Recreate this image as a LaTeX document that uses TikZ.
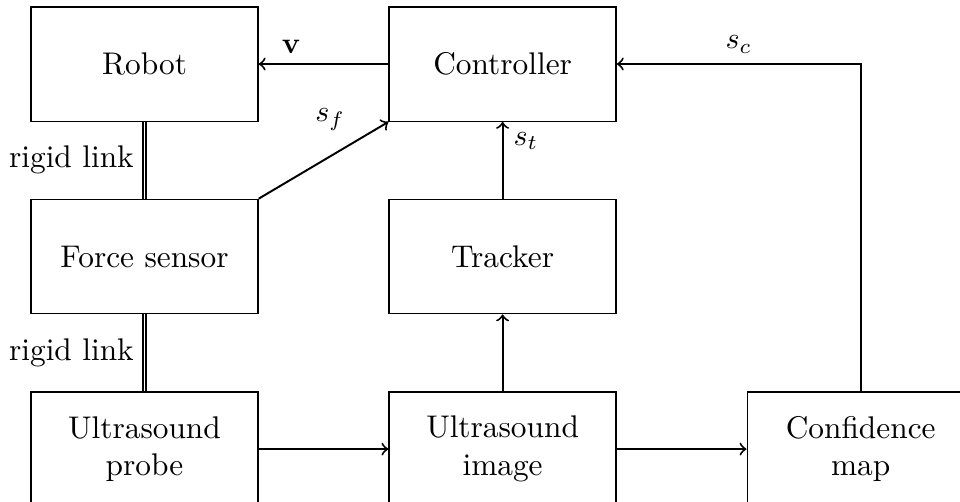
\documentclass[tikz,border=0pt]{standalone}
\usetikzlibrary{positioning}
\tikzset{
  blockbox/.style={
    draw,
    line width=0.45pt,
    minimum width=2.66cm,
    minimum height=1.34cm,
    align=center
  },
  sigarrow/.style={->,line width=0.65pt},
  rigidlink/.style={double,line width=0.5pt}
}
\begin{document}
\begin{tikzpicture}[node distance=0.9cm and 1.52cm,font=\fontsize{10.45}{12.5}\selectfont]
\useasboundingbox (-1.693,-5.13) rectangle (9.555,0.75);
\node[blockbox] (robot) at (0,0) {Robot};
\node[blockbox,right=of robot] (controller) {Controller};
\node[blockbox,below=of robot] (force) {Force sensor};
\node[blockbox,below=of controller] (tracker) {Tracker};
\node[blockbox,below=of force] (probe) {Ultrasound\\probe};
\node[blockbox,below=of tracker] (image) {Ultrasound\\image};
\node[blockbox,right=of image] (confidence) {Confidence\\map};
\draw[sigarrow] (controller) -- node[above,pos=0.75] {$\mathbf{v}$} (robot);
\draw[sigarrow] (force.north east) -- node[above left,pos=0.75] {$s_f$} (controller.south west);
\draw[sigarrow] (tracker) -- node[right,pos=0.75] {$s_t$} (controller);
\draw[sigarrow] (image) -- (tracker);
\draw[sigarrow] (probe) -- (image);
\draw[sigarrow] (image) -- (confidence);
\draw[sigarrow] (confidence) |- node[above,pos=0.75] {$s_c$} (controller);
\draw[rigidlink] (robot) -- node[left] {rigid link} (force);
\draw[rigidlink] (force) -- node[left] {rigid link} (probe);
\end{tikzpicture}
\end{document}
